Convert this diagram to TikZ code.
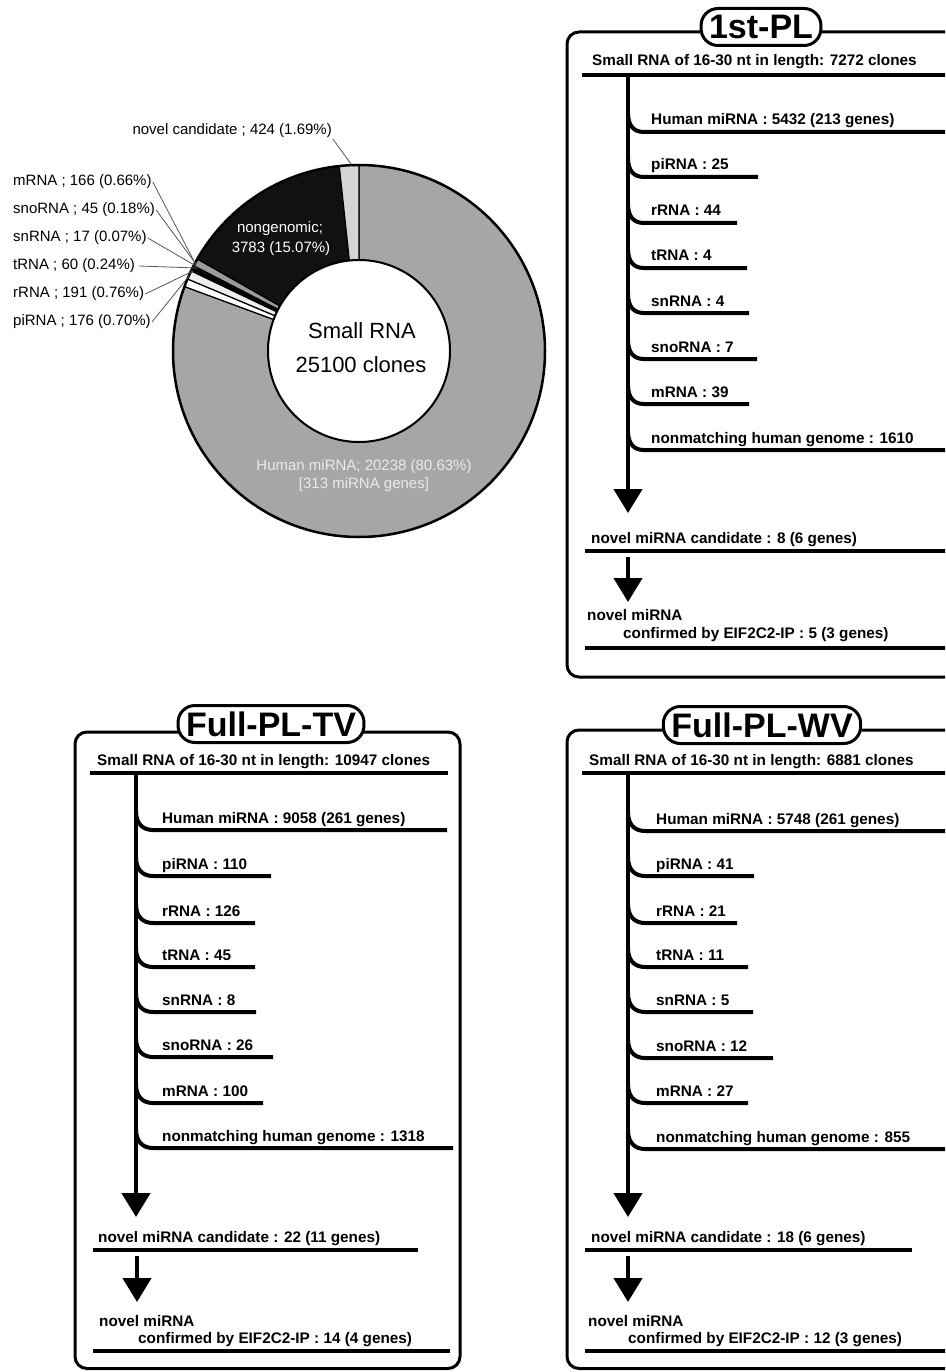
\documentclass[tikz,border=0pt]{standalone}
\usepackage{fontspec}
\setmainfont{Liberation Sans}
\usetikzlibrary{arrows.meta}
\definecolor{mirgray}{HTML}{A6A6A6}
\definecolor{novgray}{HTML}{D4D4D4}
\definecolor{rgray}{HTML}{EEEEEE}
\definecolor{mgray}{HTML}{9C9C9C}
\definecolor{nongen}{HTML}{111111}
\definecolor{leadgray}{HTML}{555555}
\definecolor{lighttext}{HTML}{EAEAEA}
\begin{document}
\begin{tikzpicture}[x=1pt,y=-1pt,
  frame/.style={draw, line width=3pt, rounded corners=12pt},
  pill/.style={draw, line width=3pt, rounded corners=17pt, fill=white,
    font=\bfseries\fontsize{34}{34}\selectfont, minimum height=37pt,
    inner xsep=8pt, inner ysep=0pt},
  hline/.style={line width=4pt},
  trunk/.style={line width=4.5pt},
  arr/.style={trunk, -{Triangle[width=28pt,length=24pt]}},
  branch/.style={line width=4pt},
  lbl/.style={font=\bfseries\fontsize{15.3}{18}\selectfont, anchor=base west, inner sep=0pt},
  pielbl/.style={font=\fontsize{15}{18}\selectfont, anchor=west, inner sep=1pt},
  leader/.style={draw=leadgray, line width=0.8pt},
  slice/.style={draw=black, line width=1.2pt}
]
\path[use as bounding box] (0,0) rectangle (945,1372);
\clip (0,0) rectangle (945,1372);

% ---------------- Pie (donut) ----------------
\begin{scope}[shift={(359,351)}, y=1pt]
  \foreach \a/\b/\c in {90/-200.268/mirgray, -200.268/-202.788/white,
      -202.788/-205.524/rgray, -205.524/-206.388/black, -206.388/-206.64/white,
      -206.64/-207.288/black!80, -207.288/-209.664/mgray,
      -209.664/-263.916/nongen, -263.916/-270/novgray}
    \filldraw[slice, fill=\c] (\a:186) arc[start angle=\a, end angle=\b, radius=186]
      -- (\b:91) arc[start angle=\b, end angle=\a, radius=91] -- cycle;
  \draw[line width=2.5pt] (0,0) circle[radius=186];
  \filldraw[fill=white, line width=2pt] (0,0) circle[radius=91];
\end{scope}

\node[font=\fontsize{22}{26}\selectfont, anchor=base, inner sep=0pt] (c1) at (362,338) {Small RNA};
\node[font=\fontsize{22}{26}\selectfont, anchor=base, inner sep=0pt] (c2) at (361,372) {25100 clones};
\node[font=\fontsize{15}{18}\selectfont, text=white, anchor=base, inner sep=0pt] (ng1) at (280,233) {nongenomic;};
\node[font=\fontsize{15}{18}\selectfont, text=white, anchor=base, inner sep=0pt] (ng2) at (281,252) {3783 (15.07\%)};
\node[font=\fontsize{15}{18}\selectfont, text=lighttext, anchor=base, inner sep=0pt] (hm1) at (364,470) {Human miRNA; 20238 (80.63\%)};
\node[font=\fontsize{15}{18}\selectfont, text=lighttext, anchor=base, inner sep=0pt] (hm2) at (364,488) {[313 miRNA genes]};

\coordinate (pnov) at (351,164);
\coordinate (pm) at (195,263);
\coordinate (psno) at (196,264);
\coordinate (psn) at (196,266);
\coordinate (pt) at (197,268);
\coordinate (pr) at (193,271);
\coordinate (ppi) at (189,276);

\node[pielbl, anchor=east] (lnov) at (333,131) {novel candidate ; 424 (1.69\%)};
\node[pielbl] (lm) at (12,182) {mRNA ; 166 (0.66\%)};
\node[pielbl] (lsno) at (12,210) {snoRNA ; 45 (0.18\%)};
\node[pielbl] (lsn) at (12,238) {snRNA ; 17 (0.07\%)};
\node[pielbl] (lt) at (12,266) {tRNA ; 60 (0.24\%)};
\node[pielbl] (lr) at (12,294) {rRNA ; 191 (0.76\%)};
\node[pielbl] (lpi) at (12,322) {piRNA ; 176 (0.70\%)};

\draw[leader] (lnov.south east) -- (pnov);
\draw[leader] (lm.east) -- (pm);
\draw[leader] (lsno.east) -- (psno);
\draw[leader] (lsn.east) -- (psn);
\draw[leader] ([xshift=3pt]lt.east) -- (pt);
\draw[leader] (lr.east) -- (pr);
\draw[leader] (lpi.east) -- (ppi);

% ---------------- Panel 1st-PL ----------------
\draw[frame] (960,32) -- (567,32) -- (567,677) -- (960,677);
\node[pill] (t1) at (761,27) {1st-PL};
\node[lbl] (h1) at (592,66) {Small RNA of 16-30 nt in length: 7272 clones};
\draw[hline] (582,75) -- (960,75);
\coordinate (a1s) at (628,75);
\coordinate (a1e) at (628,513);
\draw[arr] (a1s) -- (a1e);
\foreach \yy/\xe/\t in {132/960/{Human miRNA : 5432 (213 genes)}, 177/758/{piRNA : 25},
    223/737/{rRNA : 44}, 268/747/{tRNA : 4}, 313/749/{snRNA : 4}, 359/757/{snoRNA : 7},
    404/749/{mRNA : 39}, 450/960/{nonmatching human genome : 1610}} {
  \node[lbl] (p1-\yy) at (651,\yy-7) {\t};
  \draw[branch] (628,\yy-19) .. controls (628,\yy-6) and (634,\yy) .. (644,\yy) -- (\xe,\yy);
}
\node[lbl] (n1) at (591,543) {novel miRNA candidate : 8 (6 genes)};
\draw[hline] (585,551) -- (960,551);
\coordinate (b1s) at (628,557);
\coordinate (b1e) at (628,602);
\draw[arr] (b1s) -- (b1e);
\node[lbl] (m1) at (587,620) {novel miRNA};
\node[lbl] (f1) at (623,638) {confirmed by EIF2C2-IP : 5 (3 genes)};
\draw[hline] (585,648) -- (960,648);

% ---------------- Panel Full-PL-TV ----------------
\draw[frame] (75,732) rectangle (460,1368.5);
\node[pill] (t2) at (271,724) {Full-PL-TV};
\node[lbl] (h2) at (97,765) {Small RNA of 16-30 nt in length: 10947 clones};
\draw[hline] (90,773) -- (448,773);
\coordinate (a2s) at (136,773);
\coordinate (a2e) at (136,1217);
\draw[arr] (a2s) -- (a2e);
\foreach \yy/\xe/\t in {830/447/{Human miRNA : 9058 (261 genes)}, 876/271/{piRNA : 110},
    923/255/{rRNA : 126}, 967/255/{tRNA : 45}, 1012/256/{snRNA : 8}, 1057/273/{snoRNA : 26},
    1103/263/{mRNA : 100}, 1148/453/{nonmatching human genome : 1318}} {
  \node[lbl] (p2-\yy) at (162,\yy-7) {\t};
  \draw[branch] (136,\yy-19) .. controls (136,\yy-6) and (143,\yy) .. (153,\yy) -- (\xe,\yy);
}
\node[lbl] (n2) at (98,1242) {novel miRNA candidate : 22 (11 genes)};
\draw[hline] (93,1250) -- (418,1250);
\coordinate (b2s) at (137,1256);
\coordinate (b2e) at (137,1302);
\draw[arr] (b2s) -- (b2e);
\node[lbl] (m2) at (99,1326) {novel miRNA};
\node[lbl] (f2) at (138,1343) {confirmed by EIF2C2-IP : 14 (4 genes)};
\draw[hline] (93,1351) -- (450,1351);

% ---------------- Panel Full-PL-WV ----------------
\draw[frame] (960,730) -- (567,730) -- (567,1368.5) -- (960,1368.5);
\node[pill] (t3) at (762,725) {Full-PL-WV};
\node[lbl] (h3) at (589,765) {Small RNA of 16-30 nt in length: 6881 clones};
\draw[hline] (582,773) -- (960,773);
\coordinate (a3s) at (628,773);
\coordinate (a3e) at (628,1217);
\draw[arr] (a3s) -- (a3e);
\foreach \yy/\xe/\t in {831/960/{Human miRNA : 5748 (261 genes)}, 876/754/{piRNA : 41},
    923/737/{rRNA : 21}, 967/748/{tRNA : 11}, 1012/753/{snRNA : 5}, 1058/773/{snoRNA : 12},
    1103/748/{mRNA : 27}, 1149/960/{nonmatching human genome : 855}} {
  \node[lbl] (p3-\yy) at (656,\yy-7) {\t};
  \draw[branch] (628,\yy-19) .. controls (628,\yy-6) and (635,\yy) .. (645,\yy) -- (\xe,\yy);
}
\node[lbl] (n3) at (591,1242) {novel miRNA candidate : 18 (6 genes)};
\draw[hline] (585,1250) -- (912,1250);
\coordinate (b3s) at (628,1256);
\coordinate (b3e) at (628,1302);
\draw[arr] (b3s) -- (b3e);
\node[lbl] (m3) at (588,1326) {novel miRNA};
\node[lbl] (f3) at (628,1343) {confirmed by EIF2C2-IP : 12 (3 genes)};
\draw[hline] (585,1351) -- (960,1351);
\end{tikzpicture}
\end{document}
